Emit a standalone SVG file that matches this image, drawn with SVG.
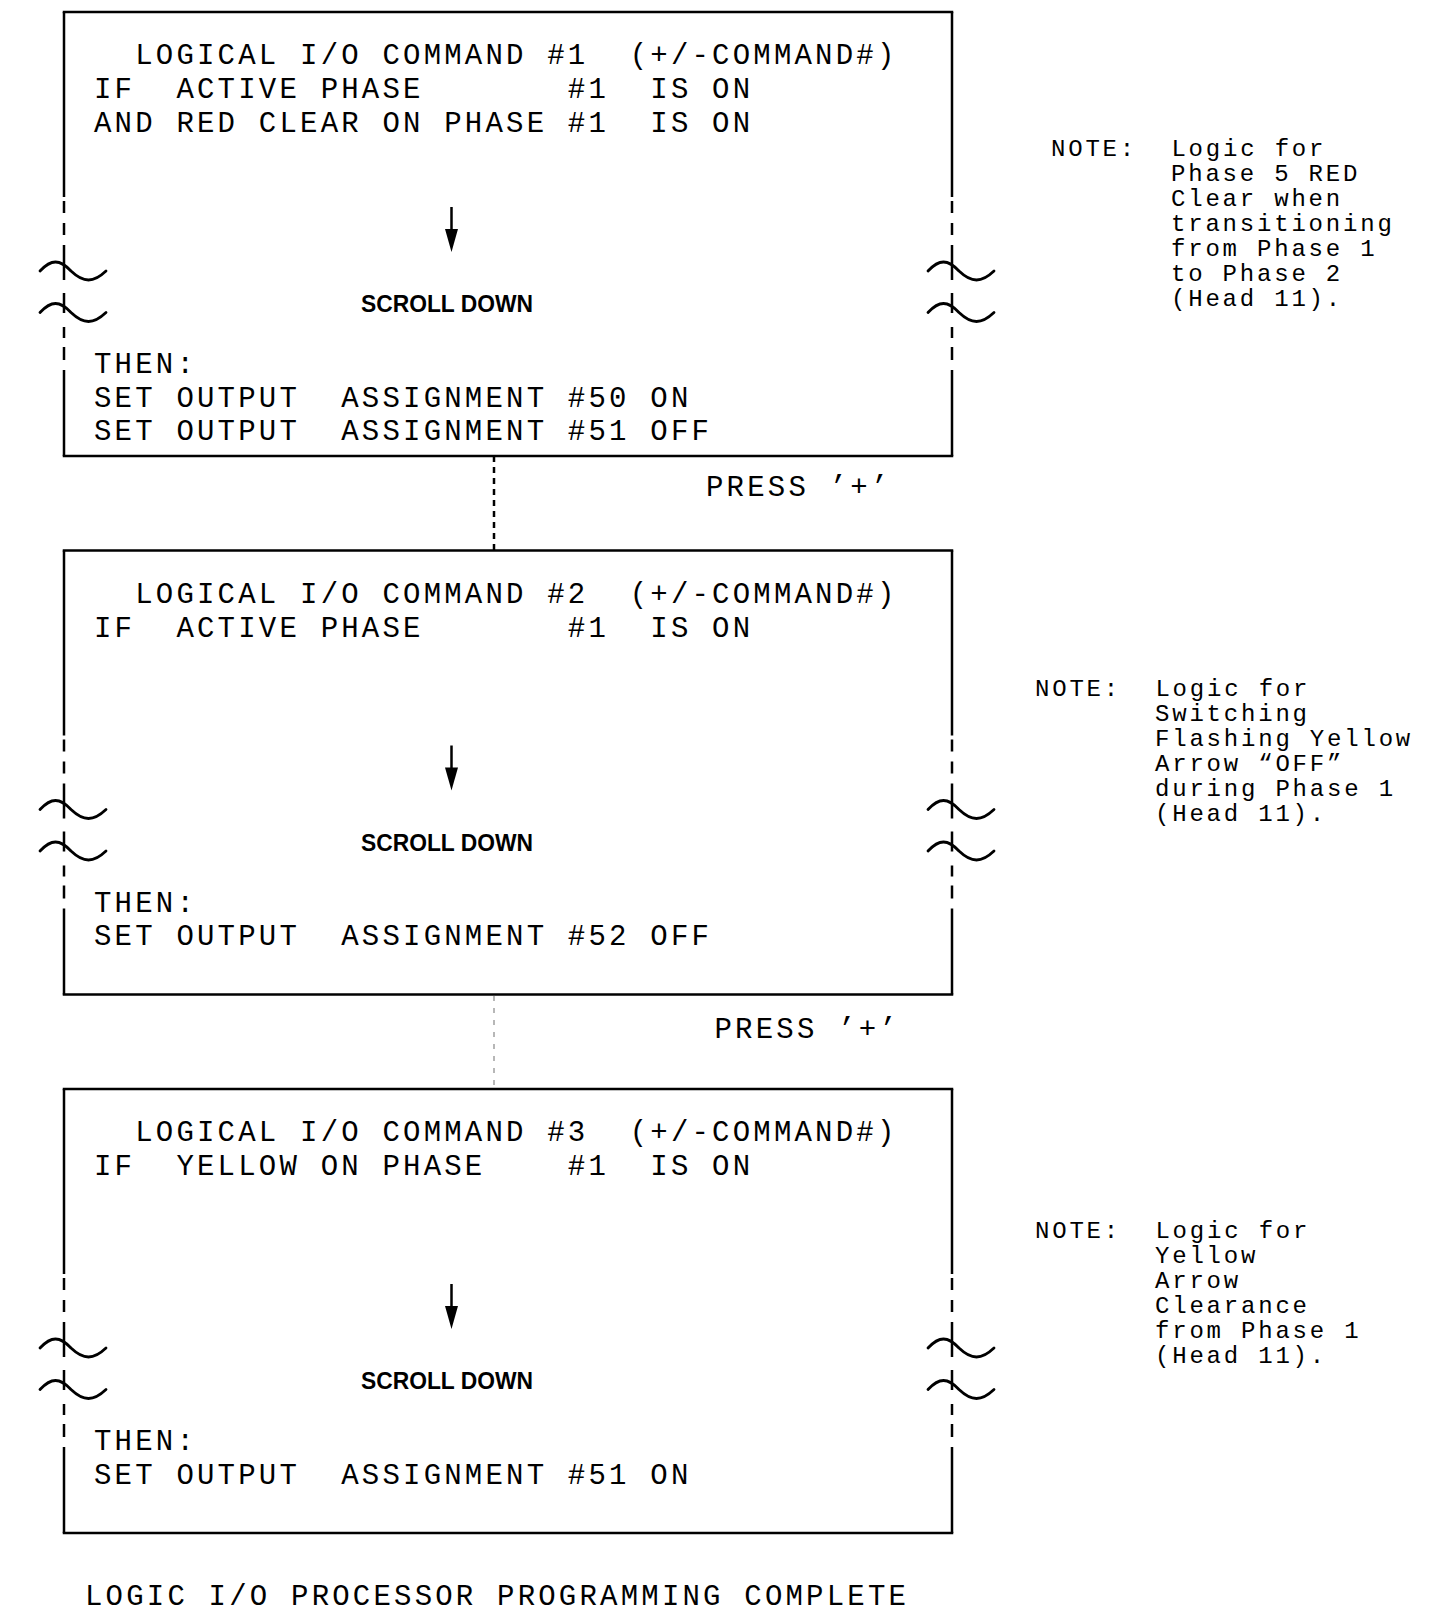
<svg xmlns="http://www.w3.org/2000/svg" width="1435" height="1621" viewBox="0 0 1435 1621" xml:space="preserve">
<style>
.t{font-family:"Liberation Mono",monospace;font-size:29px;letter-spacing:3.2px;fill:#000;white-space:pre}
.n{font-family:"Liberation Mono",monospace;font-size:24px;letter-spacing:2.8px;fill:#000;white-space:pre}
.s{font-family:"Liberation Sans",Arial,sans-serif;font-weight:bold;font-size:24px;fill:#000}
.ln{fill:none;stroke:#000;stroke-width:2.5}
.tl{fill:none;stroke:#000;stroke-width:2.8;stroke-linecap:round}
</style>
<defs>
<g id="side">
<path class="ln" d="M0,0 V185 M0,189 V201 M0,211 V223 M0,233 V268 M0,281 V301 M0,315 V326 M0,335 V348 M0,358 V444"/>
<path class="tl" d="M-24,259 C-12.8,247 -4.2,247 7,259 C19.6,271 29.4,271 42,259"/>
<path class="tl" d="M-24,300.5 C-12.8,288.5 -4.2,288.5 7,300.5 C19.6,312.5 29.4,312.5 42,300.5"/>
</g>
<g id="frame">
<path class="ln" d="M-1.25,0 H889.25 M-1.25,444 H889.25"/>
<use href="#side" x="0" y="0"/>
<use href="#side" x="888" y="0"/>
</g>
<g id="arrow">
<line x1="0" y1="0" x2="0" y2="26" stroke="#000" stroke-width="2.5"/>
<polygon points="-6.5,22 6.5,22 0,45" fill="#000"/>
</g>
</defs>
<rect x="0" y="0" width="1435" height="1621" fill="#fff"/>

<g id="connectors">
<line x1="494" y1="456" x2="494" y2="550.5" stroke="#000" stroke-width="2.5" stroke-dasharray="6 5"/>
<line x1="494" y1="996" x2="494" y2="1089" stroke="#888" stroke-width="1.2" stroke-dasharray="5 7"/>
<text class="t" x="706" y="496">PRESS ’+’</text>
<text class="t" x="714.5" y="1037.5">PRESS ’+’</text>
</g>

<g id="cmd1">
<use href="#frame" x="64" y="12"/>
<text class="t" x="94" y="64">  LOGICAL I/O COMMAND #1  (+/-COMMAND#)</text>
<text class="t" x="94" y="98">IF  ACTIVE PHASE       #1  IS ON</text>
<text class="t" x="94" y="131.5">AND RED CLEAR ON PHASE #1  IS ON</text>
<use href="#arrow" x="451.5" y="207"/>
<text class="s" x="361" y="312" textLength="172" lengthAdjust="spacingAndGlyphs">SCROLL DOWN</text>
<text class="t" x="94" y="373">THEN:</text>
<text class="t" x="94" y="406.5">SET OUTPUT  ASSIGNMENT #50 ON</text>
<text class="t" x="94" y="439.5">SET OUTPUT  ASSIGNMENT #51 OFF</text>
</g>

<g id="cmd2">
<use href="#frame" x="64" y="550.5"/>
<text class="t" x="94" y="602.5">  LOGICAL I/O COMMAND #2  (+/-COMMAND#)</text>
<text class="t" x="94" y="636.5">IF  ACTIVE PHASE       #1  IS ON</text>
<use href="#arrow" x="451.5" y="745.5"/>
<text class="s" x="361" y="850.5" textLength="172" lengthAdjust="spacingAndGlyphs">SCROLL DOWN</text>
<text class="t" x="94" y="911.5">THEN:</text>
<text class="t" x="94" y="945">SET OUTPUT  ASSIGNMENT #52 OFF</text>
</g>

<g id="cmd3">
<use href="#frame" x="64" y="1089"/>
<text class="t" x="94" y="1141">  LOGICAL I/O COMMAND #3  (+/-COMMAND#)</text>
<text class="t" x="94" y="1175">IF  YELLOW ON PHASE    #1  IS ON</text>
<use href="#arrow" x="451.5" y="1284"/>
<text class="s" x="361" y="1389" textLength="172" lengthAdjust="spacingAndGlyphs">SCROLL DOWN</text>
<text class="t" x="94" y="1450">THEN:</text>
<text class="t" x="94" y="1483.5">SET OUTPUT  ASSIGNMENT #51 ON</text>
</g>

<g id="note1">
<text class="n" x="1051" y="156">NOTE:  Logic for</text>
<text class="n" x="1171" y="181">Phase 5 RED</text>
<text class="n" x="1171" y="206">Clear when</text>
<text class="n" x="1171" y="231">transitioning</text>
<text class="n" x="1171" y="256">from Phase 1</text>
<text class="n" x="1171" y="281">to Phase 2</text>
<text class="n" x="1171" y="306">(Head 11).</text>
</g>

<g id="note2">
<text class="n" x="1035" y="695.5">NOTE:  Logic for</text>
<text class="n" x="1155" y="720.5">Switching</text>
<text class="n" x="1155" y="745.5">Flashing Yellow</text>
<text class="n" x="1155" y="770.5">Arrow “OFF”</text>
<text class="n" x="1155" y="795.5">during Phase 1</text>
<text class="n" x="1155" y="820.5">(Head 11).</text>
</g>

<g id="note3">
<text class="n" x="1035" y="1237.5">NOTE:  Logic for</text>
<text class="n" x="1155" y="1262.5">Yellow</text>
<text class="n" x="1155" y="1287.5">Arrow</text>
<text class="n" x="1155" y="1312.5">Clearance</text>
<text class="n" x="1155" y="1337.5">from Phase 1</text>
<text class="n" x="1155" y="1362.5">(Head 11).</text>
</g>

<g id="footer">
<text class="t" x="85" y="1604.5">LOGIC I/O PROCESSOR PROGRAMMING COMPLETE</text>
</g>
</svg>
